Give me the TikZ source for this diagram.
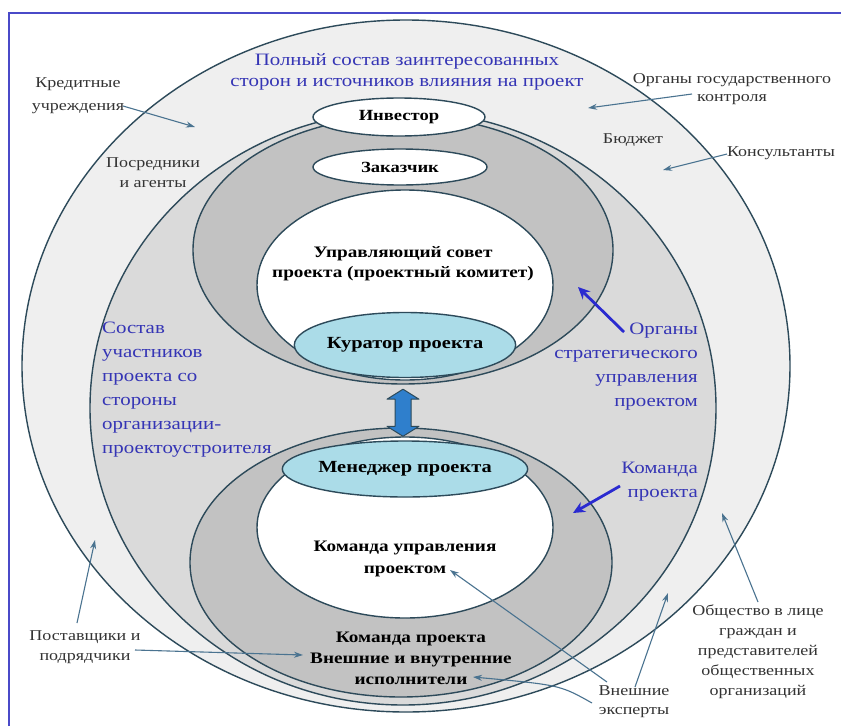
\documentclass[tikz,border=0pt]{standalone}
\usepackage{fontspec}
\setmainfont[FakeStretch=1.2]{Liberation Serif}
\usetikzlibrary{shapes.geometric,arrows.meta,calc}
\definecolor{frameblue}{HTML}{4A4AC8}
\definecolor{ringA}{HTML}{EFEFEF}
\definecolor{ringB}{HTML}{DADADA}
\definecolor{darkgray}{HTML}{C2C2C2}
\definecolor{edge}{HTML}{2D4A5A}
\definecolor{lblue}{HTML}{ABDCE8}
\definecolor{txtblue}{HTML}{3535B5}
\definecolor{arrblue}{HTML}{2A2AD0}
\definecolor{thin}{HTML}{4A7390}
\definecolor{txtgray}{HTML}{333333}
\definecolor{blockarrow}{HTML}{2F7FCC}
\begin{document}
\begin{tikzpicture}[x=1pt,y=-1pt,
  region/.style={draw=edge,line width=1.4pt},
  oval/.style={ellipse,draw=edge,line width=1.4pt,inner sep=0pt,font=\bfseries\fontsize{15.5}{18}\selectfont},
  sidelbl/.style={align=center,text=txtgray,font=\fontsize{15}{20}\selectfont,inner sep=0pt},
  bluelbl/.style={text=txtblue,font=\fontsize{17.4}{24}\selectfont,inner sep=0pt},
  boldlbl/.style={align=center,text=black,font=\bfseries\fontsize{16}{20}\selectfont,inner sep=0pt},
  thinarrow/.style={draw=thin,line width=1.1pt,-{Stealth[length=9pt,width=6pt]}},
  bluearrow/.style={draw=arrblue,line width=2.8pt,-{Stealth[length=12pt,width=11pt]}},
  blockarr/.style={draw=edge,fill=blockarrow,line width=1pt,line join=round}]
\useasboundingbox (0,0) rectangle (841,726);
\fill[white] (0,0) rectangle (841,726);
% frame
\draw[frameblue,line width=2.5pt] (9,726) -- (9,13) -- (841,13);
% nested regions
\draw[region,fill=ringA] (406,366) ellipse [x radius=384pt, y radius=346pt];
\draw[region,fill=ringB] (403,408) ellipse [x radius=313pt, y radius=297pt];
\draw[region,fill=darkgray] (403,250) ellipse [x radius=210pt, y radius=134pt];
\draw[region,fill=darkgray] (401,562.5) ellipse [x radius=211pt, y radius=134.5pt];
\draw[region,fill=white] (405,285) ellipse [x radius=148pt, y radius=95pt];
\draw[region,fill=white] (405,527.5) ellipse [x radius=148pt, y radius=90.5pt];
% ovals
\node[oval,fill=white,minimum width=172pt,minimum height=38pt] (inv) at (399,117) {Инвестор};
\node[oval,fill=white,minimum width=174pt,minimum height=36pt] (zak) at (400,167) {Заказчик};
\node[oval,fill=lblue,minimum width=186pt,minimum height=65pt,font=\bfseries\fontsize{17}{20}\selectfont] (kur) at (405,345) {Куратор проекта};
\node[oval,fill=lblue,minimum width=182pt,minimum height=56pt,font=\bfseries\fontsize{17}{20}\selectfont] (men) at (405,469) {Менеджер проекта};
% double block arrow between kur and men
\coordinate (dTop) at ($(kur.south)+(-2,11)$);
\coordinate (dBot) at ($(men.north)+(-2,-4)$);
\draw[blockarr] (dTop) -- ($(dTop)+(16,10)$) -- ($(dTop)+(8,10)$) -- ($(dBot)+(8,-10)$) -- ($(dBot)+(16,-10)$)
  -- (dBot) -- ($(dBot)+(-16,-10)$) -- ($(dBot)+(-8,-10)$) -- ($(dTop)+(-8,10)$) -- ($(dTop)+(-16,10)$) -- cycle;
% inner texts
\node[boldlbl] (upr) at (403,264) {Управляющий совет\\проекта (проектный комитет)};
\node[boldlbl,font=\bfseries\fontsize{16}{22}\selectfont] (kup) at (405,559) {Команда управления\\проектом};
\node[boldlbl,font=\bfseries\fontsize{16}{21}\selectfont] (kp) at (411,658) {Команда проекта\\Внешние и внутренние\\исполнители};
% blue labels
\node[bluelbl,align=center,font=\fontsize{17.4}{21}\selectfont] (title) at (407,72) {Полный состав заинтересованных\\сторон и источников влияния на проект};
\node[bluelbl,align=left,anchor=west] (sostav) at (102,390) {Состав\\участников\\проекта со\\стороны\\организации-\\проектоустроителя};
\node[bluelbl,align=right,anchor=east] (organy) at (698,366.5) {Органы\\стратегического\\управления\\проектом};
\node[bluelbl,align=right,anchor=east] (komproj) at (698,482) {Команда\\проекта};
% side labels
\node[sidelbl,font=\fontsize{15}{23}\selectfont] (kred) at (78,96) {Кредитные\\учреждения};
\node[sidelbl] (posr) at (153,173) {Посредники\\и агенты};
\node[sidelbl,font=\fontsize{15}{18}\selectfont] (gos) at (732,89) {Органы государственного\\контроля};
\node[sidelbl] (budget) at (633,140) {Бюджет};
\node[sidelbl] (kons) at (781,153) {Консультанты};
\node[sidelbl] (post) at (85,647) {Поставщики и\\подрядчики};
\node[sidelbl,font=\fontsize{15}{19}\selectfont] (vnexp) at (634,702) {Внешние\\эксперты};
\node[sidelbl] (obsh) at (758,652) {Общество в лице\\граждан и\\представителей\\общественных\\организаций};
% arrow end points
\coordinate (kredT) at (123,106);   \coordinate (kredH) at (195,127);
\coordinate (gosT) at (692,94);     \coordinate (gosH) at (588,108);
\coordinate (konsT) at (727,154);   \coordinate (konsH) at (663,170);
\coordinate (postT1) at (77,623);   \coordinate (postH1) at (95,540);
\coordinate (postT2) at (135,650);  \coordinate (postH2) at (303,655);
\coordinate (vnT1) at (635,687);    \coordinate (vnH1) at (668,593);
\coordinate (vnT2) at (607,682);    \coordinate (vnH2) at (450,570);
\coordinate (vnT3) at (592,703);    \coordinate (vnH3) at (473,677);
\coordinate (obT) at (758,602);     \coordinate (obH) at (722,513);
\coordinate (orgT) at (624,332);    \coordinate (orgH) at (578,287);
\coordinate (kpT) at (620,486);     \coordinate (kpH) at (573,513);
% arrows
\draw[thinarrow] (kredT) -- (kredH);
\draw[thinarrow] (gosT) -- (gosH);
\draw[thinarrow] (konsT) -- (konsH);
\draw[thinarrow] (postT1) -- (postH1);
\draw[thinarrow] (postT2) -- (postH2);
\draw[thinarrow] (vnT1) -- (vnH1);
\draw[thinarrow] (vnT2) -- (vnH2);
\draw[thinarrow] (vnT3) .. controls (560,685) .. (vnH3);
\draw[thinarrow] (obT) -- (obH);
\draw[bluearrow] (orgT) -- (orgH);
\draw[bluearrow] (kpT) -- (kpH);
\end{tikzpicture}
\end{document}
